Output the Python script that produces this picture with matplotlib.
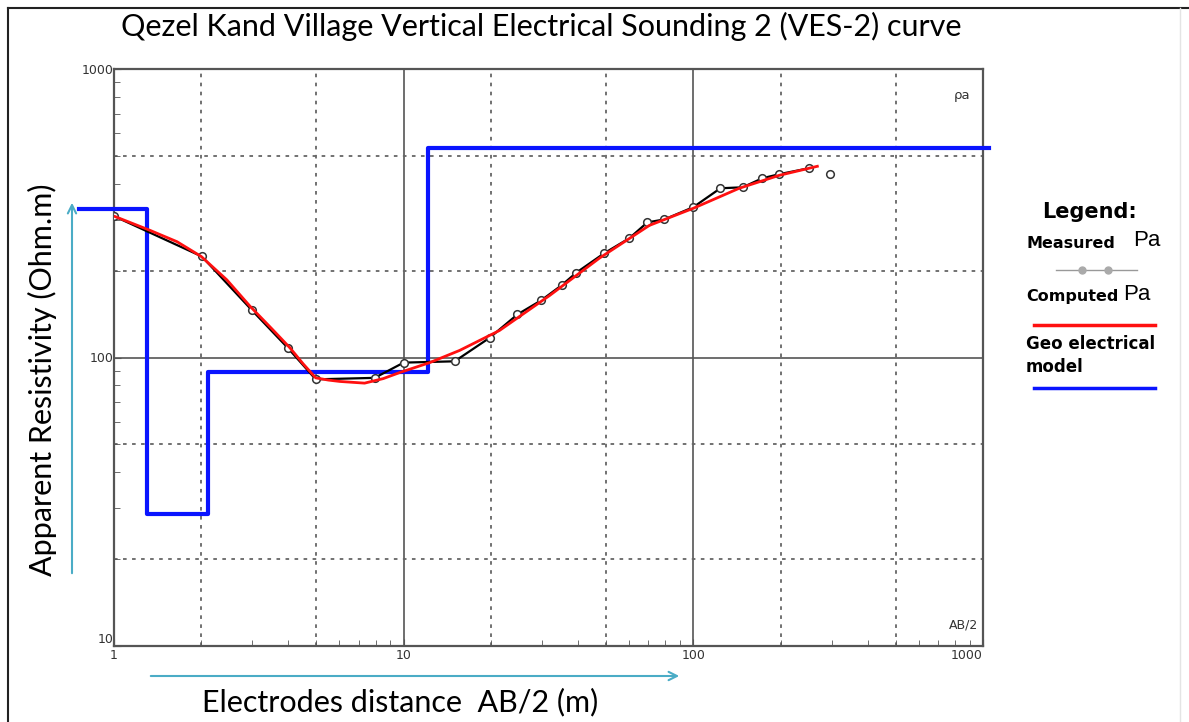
import numpy as np
import matplotlib
matplotlib.use("Agg")
import matplotlib.pyplot as plt
from matplotlib.lines import Line2D

# measured apparent resistivity (AB/2 in m, rho_a in ohm.m)
meas_x = [1.0, 2.01, 2.99, 3.98, 4.97, 7.94, 10.0, 15.0, 19.8, 24.7, 29.9, 35.1, 39.5,
          49.3, 60.1, 69.4, 79.4, 100, 124, 148, 173, 198, 251, 297]
meas_y = [309, 224, 146, 108, 84, 85, 96, 97, 117, 141, 158, 178, 197,
          230, 259, 294, 301, 332, 386, 389, 418, 432, 453, 432]

# computed curve
comp_x = [1.0, 1.33, 1.65, 2.0, 2.45, 2.94, 3.5, 4.05, 4.5, 4.97, 5.5, 6.02, 7.33, 8.5,
          9.7, 12.3, 15.6, 21.4, 31.9, 47.4, 70.5, 100, 144, 198, 268]
comp_y = [309, 276, 252, 224, 186, 151, 126, 108, 95, 85, 83.5, 82.6, 81.5, 84.5,
          88.7, 96, 105.8, 124, 164, 221, 287, 329, 386, 428, 460]

# layered geo-electrical model
model_x = [0.76, 1.30, 1.30, 2.11, 2.11, 12.1, 12.1, 1050]
model_y = [326, 326, 28.7, 28.7, 89.4, 89.4, 532, 532]

W, H = 1189, 722
fig = plt.figure(figsize=(W / 100, H / 100), dpi=100)
ax = fig.add_axes([114 / W, 1 - 646 / H, (983 - 114) / W, (646 - 69) / H])
ax.set_xscale("log")
ax.set_yscale("log")
ax.set_xlim(1, 1000)
ax.set_ylim(10, 1000)

# grid: solid at decades, dotted at 2 and 5
for v in [10, 100]:
    ax.axvline(v, color="#555555", lw=1.2, zorder=1)
for v in [2, 5, 20, 50, 200, 500]:
    ax.axvline(v, color="#666666", lw=1.3, ls=(0, (2, 3)), zorder=1)
ax.axhline(100, color="#555555", lw=1.2, zorder=1)
for v in [20, 50, 200, 500]:
    ax.axhline(v, color="#666666", lw=1.3, ls=(0, (2, 3)), zorder=1)

ax.plot(model_x, model_y, color="#0a14ff", lw=3, clip_on=False, zorder=3)
ax.plot(meas_x[:-1], meas_y[:-1], color="black", lw=1.6, zorder=4)
ax.plot(meas_x, meas_y, ls="none", marker="o", ms=5.5, mfc="white", mec="#333333",
        mew=1.1, zorder=5)
ax.plot(comp_x, comp_y, color="#ff1010", lw=2, zorder=6)

for s in ax.spines.values():
    s.set_color("#555555")
    s.set_linewidth(1.6)
ax.tick_params(which="both", direction="in", colors="#555555", labelcolor="#333333",
               labelsize=9, pad=2)
ax.tick_params(which="major", length=5)
ax.tick_params(which="minor", length=4)
ax.set_xticks([1, 10, 100, 1000])
ax.set_xticklabels(["1", "10", "100", "1000"])
ax.set_yticks([10, 100, 1000])
ax.set_yticklabels(["10", "100", "1000"])
ax.tick_params(axis="y", pad=0)
ax.get_xticklabels()[-1].set_ha("right")
ax.get_yticklabels()[0].set_va("bottom")
ax.text(0.985, 0.965, "ρa", transform=ax.transAxes, ha="right", va="top",
        fontsize=9.5, color="#333333")
ax.text(0.995, 0.025, "AB/2", transform=ax.transAxes, ha="right", va="bottom",
        fontsize=9, color="#333333")

title_font = "Lato"
fig.text(541 / W, 1 - 26 / H, "Qezel Kand Village Vertical Electrical Sounding 2 (VES-2) curve",
         ha="center", va="center", fontsize=22, family=title_font, color="black")
fig.text(42 / W, 1 - 380 / H, "Apparent Resistivity (Ohm.m)", rotation=90,
         ha="center", va="center", fontsize=22, family=title_font)
fig.text(400 / W, 1 - 702 / H, "Electrodes distance  AB/2 (m)",
         ha="center", va="center", fontsize=22, family=title_font)

arrow_col = "#4bacc6"
fig.add_artist(matplotlib.patches.FancyArrowPatch(
    (72 / W, 1 - 576 / H), (72 / W, 1 - 200 / H), transform=fig.transFigure,
    arrowstyle="->,head_length=6,head_width=3", color=arrow_col, lw=1.5))
fig.add_artist(matplotlib.patches.FancyArrowPatch(
    (148 / W, 1 - 676 / H), (682 / W, 1 - 676 / H), transform=fig.transFigure,
    arrowstyle="->,head_length=6,head_width=3", color=arrow_col, lw=1.5))

# legend block on the right
lf = "DejaVu Sans"
fig.text(1090 / W, 1 - 212 / H, "Legend:", ha="center", va="center", fontsize=15,
         weight="bold", family=lf)
fig.text(1026 / W, 1 - 243 / H, "Measured", ha="left", va="center", fontsize=11.5,
         weight="bold", family=lf)
fig.text(1133 / W, 1 - 241 / H, "Pa", ha="left", va="center", fontsize=16,
         family="Liberation Sans")
fig.text(1026 / W, 1 - 296 / H, "Computed", ha="left", va="center", fontsize=11.5,
         weight="bold", family=lf)
fig.text(1123 / W, 1 - 294 / H, "Pa", ha="left", va="center", fontsize=16,
         family="Liberation Sans")
fig.text(1026 / W, 1 - 344 / H, "Geo electrical", ha="left", va="center", fontsize=12,
         weight="bold", family=lf)
fig.text(1026 / W, 1 - 367 / H, "model", ha="left", va="center", fontsize=12,
         weight="bold", family=lf)
fig.add_artist(Line2D([1056 / W, 1137 / W], [1 - 270 / H] * 2, color="#999999", lw=1,
                      transform=fig.transFigure))
fig.add_artist(Line2D([1082 / W, 1108 / W], [1 - 270 / H] * 2, ls="none", color="#aaaaaa",
                      marker="o", ms=5, transform=fig.transFigure))
fig.add_artist(Line2D([1034 / W, 1155 / W], [1 - 325 / H] * 2, color="#ff1010", lw=2.5,
                      transform=fig.transFigure))
fig.add_artist(Line2D([1034 / W, 1155 / W], [1 - 388 / H] * 2, color="#0a14ff", lw=2.5,
                      transform=fig.transFigure))

# outer frame
fig.add_artist(Line2D([8 / W, 8 / W], [1 - 8 / H, 0], color="#222222", lw=1.5,
                      transform=fig.transFigure))
fig.add_artist(Line2D([8 / W, 1], [1 - 8 / H, 1 - 8 / H], color="#222222", lw=1.5,
                      transform=fig.transFigure))
fig.add_artist(Line2D([1180 / W, 1180 / W], [1 - 8 / H, 0], color="#e4e4e4", lw=1,
                      transform=fig.transFigure))

fig.savefig("out.png", dpi=100)
